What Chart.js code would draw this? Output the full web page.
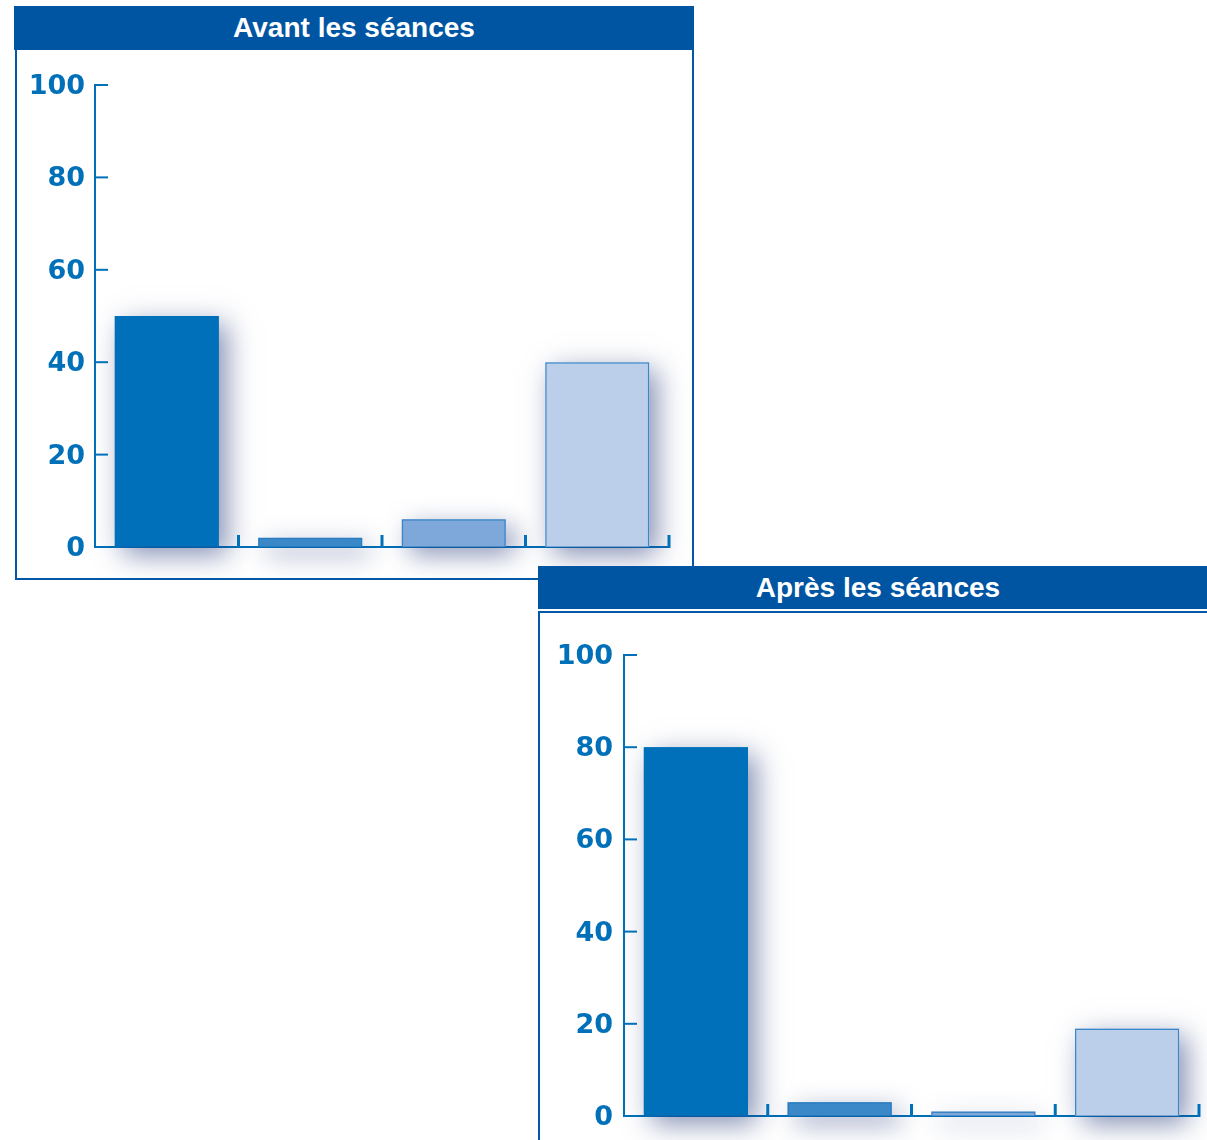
<!DOCTYPE html>
<html>
<head>
<meta charset="utf-8">
<script src="https://cdn.jsdelivr.net/npm/chart.js@4.4.1/dist/chart.umd.min.js"></script>
<style>
body{margin:0;background:#fff;width:1207px;height:1140px;overflow:hidden;position:relative}
.titlebar{position:absolute;background:#0055a3;color:#fff;font:bold 28px "Liberation Sans",Arial,sans-serif;text-align:center}
.box{position:absolute;border:2px solid #0058a6;box-sizing:border-box;background:#fff}
canvas{position:absolute}
</style>
</head>
<body>
<div class="titlebar" style="left:14px;top:6px;width:680px;height:44px;line-height:44px">Avant les séances</div>
<div class="box" style="left:15px;top:50px;width:679px;height:530px;border-top:none"></div>
<canvas id="chart1" width="675" height="526" style="left:17px;top:52px"></canvas>

<div style="position:absolute;left:538px;top:566px;width:680px;height:574px;background:#fff"></div>
<div class="titlebar" style="left:538px;top:566px;width:680px;height:43px;line-height:43px">Après les séances</div>
<div class="box" style="left:538px;top:611px;width:680px;height:600px"></div>
<canvas id="chart2" width="666" height="526" style="left:541px;top:614px"></canvas>

<script>
var categories = ['Catégorie 1', 'Catégorie 2', 'Catégorie 3', 'Catégorie 4']
var avantValues = [50, 2, 6, 40]
var apresValues = [80, 3, 1, 19]
var yTicks = [0, 20, 40, 60, 80, 100]

var barFill = ['#0070ba', '#3a88c8', '#7ea8da', '#bbcfeb']
var barBorder = ['#0070ba', '#2a7cc0', '#3a84c4', '#3a88c8']
var axisColor = '#0070b8'

// soft bluish shadow behind the bars (drawn before the bars themselves)
var shadowPlugin = {
    id: 'barShadow',
    beforeDatasetDraw: function (chart, args) {
        var c = chart.ctx
        c.save()
        c.shadowColor = 'rgba(35,55,120,0.55)'
        c.shadowBlur = 26
        c.shadowOffsetX = 8
        c.shadowOffsetY = 8
        args.meta.data.forEach(function (el, i) {
            var p = el.getProps(['x', 'y', 'base', 'width'], true)
            c.fillStyle = barFill[i]
            c.fillRect(p.x - p.width / 2, p.y, p.width, p.base - p.y)
        })
        c.restore()
    }
}

// tick marks drawn inward from the axes
var innerTicks = {
    id: 'innerTicks',
    afterDraw: function (chart) {
        var c = chart.ctx
        var x = chart.scales.x
        var y = chart.scales.y
        var area = chart.chartArea
        var half = (area.right - area.left) / categories.length / 2
        c.save()
        c.strokeStyle = axisColor
        c.lineWidth = 2
        yTicks.forEach(function (v) {
            var py = y.getPixelForValue(v)
            c.beginPath()
            c.moveTo(area.left, py)
            c.lineTo(area.left + 13, py)
            c.stroke()
        })
        c.lineWidth = 3
        categories.forEach(function (cat, i) {
            var px = x.getPixelForValue(i) + half
            c.beginPath()
            c.moveTo(px, area.bottom + 1)
            c.lineTo(px, area.bottom - 12)
            c.stroke()
        })
        c.restore()
    }
}

function makeChart(id, values, pad, axisWidth, labelPad) {
    var ctx = document.getElementById(id).getContext('2d')
    return new Chart(ctx, {
        type: 'bar',
        data: {
            labels: categories,
            datasets: [{
                data: values,
                backgroundColor: barFill,
                borderColor: barBorder,
                borderWidth: 1.5,
                barPercentage: 0.725,
                categoryPercentage: 1,
                clip: false
            }]
        },
        options: {
            responsive: false,
            animation: false,
            layout: { padding: pad },
            plugins: {
                legend: { display: false },
                tooltip: { enabled: false }
            },
            scales: {
                x: {
                    grid: { display: false, drawTicks: false },
                    border: { color: axisColor, width: 2 },
                    ticks: { display: false },
                    afterFit: function (s) { s.height = 0; s.paddingLeft = 0; s.paddingRight = 0 }
                },
                y: {
                    min: 0,
                    max: 100,
                    afterBuildTicks: function (s) {
                        s.ticks = yTicks.map(function (v) { return { value: v } })
                    },
                    grid: { drawOnChartArea: false, drawTicks: false },
                    border: { color: axisColor, width: 2 },
                    ticks: {
                        color: axisColor,
                        padding: labelPad,
                        labelOffset: 2,
                        font: { family: 'DejaVu Sans', weight: 'bold', size: 27 }
                    },
                    afterFit: function (s) { s.width = axisWidth; s.paddingTop = 0; s.paddingBottom = 0 }
                }
            }
        },
        plugins: [shadowPlugin, innerTicks]
    })
}

makeChart('chart1', avantValues, { top: 33, right: 23, bottom: 31, left: 0 }, 78, 10)
makeChart('chart2', apresValues, { top: 41, right: 8, bottom: 24, left: 0 }, 83, 11)
</script>
</body>
</html>
